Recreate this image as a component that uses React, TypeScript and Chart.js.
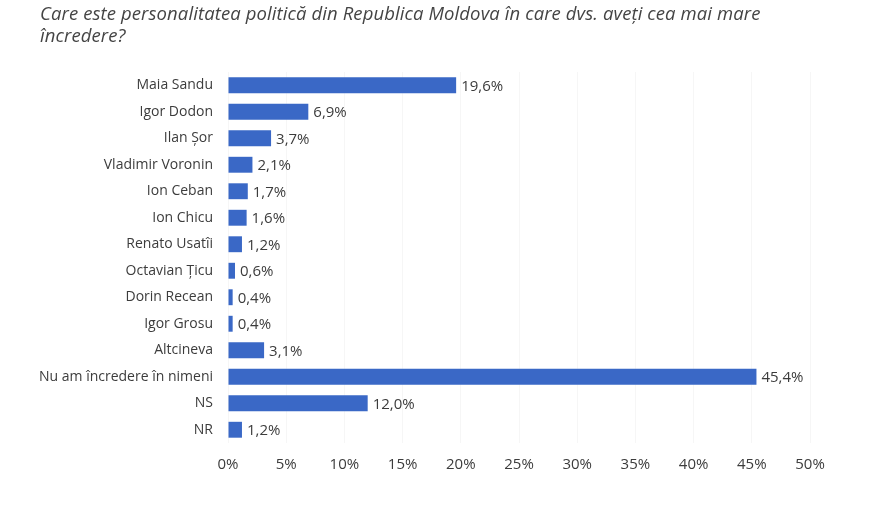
import { useEffect, useRef } from 'react'
import { Chart, registerables } from 'chart.js'
import type { Plugin } from 'chart.js'

Chart.register(...registerables)

const categories = [
  'Maia Sandu',
  'Igor Dodon',
  'Ilan Șor',
  'Vladimir Voronin',
  'Ion Ceban',
  'Ion Chicu',
  'Renato Usatîi',
  'Octavian Țicu',
  'Dorin Recean',
  'Igor Grosu',
  'Altcineva',
  'Nu am încredere în nimeni',
  'NS',
  'NR',
]
const values = [19.6, 6.9, 3.7, 2.1, 1.7, 1.6, 1.2, 0.6, 0.4, 0.4, 3.1, 45.4, 12.0, 1.2]
const tickValues = [0, 5, 10, 15, 20, 25, 30, 35, 40, 45, 50]

const FONT = "'Open Sans', Lato, sans-serif"
const TEXT = '#3c3c3c'

const fmt = (v: number) => v.toFixed(1).replace('.', ',') + '%'

// writes the value just past the end of each bar
const valueLabels: Plugin<'bar'> = {
  id: 'valueLabels',
  afterDatasetsDraw(chart) {
    const ctx = chart.ctx
    const meta = chart.getDatasetMeta(0)
    ctx.save()
    ctx.font = `15px ${FONT}`
    ctx.fillStyle = TEXT
    ctx.textAlign = 'left'
    ctx.textBaseline = 'middle'
    meta.data.forEach((bar, i) => {
      const { x, y } = bar.getProps(['x', 'y'], true)
      ctx.fillText(fmt(values[i]), x + 5, y + 1)
    })
    ctx.restore()
  },
}

export default function App() {
  const canvasRef = useRef<HTMLCanvasElement>(null)
  const chartRef = useRef<Chart | null>(null)

  useEffect(() => {
    document.body.style.margin = '0'
    if (chartRef.current) chartRef.current.destroy()
    const ctx = canvasRef.current?.getContext('2d')
    if (!ctx) return

    chartRef.current = new Chart(ctx, {
      type: 'bar',
      data: {
        labels: categories,
        datasets: [{
          data: values,
          backgroundColor: '#3a68c6',
          categoryPercentage: 0.6,
          barPercentage: 1,
        }],
      },
      options: {
        indexAxis: 'y',
        responsive: false,
        animation: false,
        layout: { padding: { top: 72, right: 77, bottom: 56, left: 0 } },
        plugins: {
          legend: { display: false },
          tooltip: { enabled: false },
        },
        scales: {
          x: {
            min: 0,
            max: 50,
            afterBuildTicks: (scale) => {
              scale.ticks = tickValues.map(v => ({ value: v }))
            },
            afterFit: (scale) => { scale.height = 30 },
            border: { display: false },
            grid: { color: 'rgba(0,0,0,0.035)', drawTicks: false },
            ticks: {
              padding: 13,
              color: TEXT,
              font: { size: 15, family: FONT },
              callback: (v) => v + '%',
            },
          },
          y: {
            afterFit: (scale) => { scale.width = 228 },
            border: { display: false },
            grid: { display: false, drawTicks: false },
            ticks: {
              padding: 15,
              color: TEXT,
              font: { size: 14, family: FONT },
            },
          },
        },
      },
      plugins: [valueLabels],
    })

    return () => {
      chartRef.current?.destroy()
      chartRef.current = null
    }
  }, [])

  return (
    <div style={{ position: 'relative', width: 887, height: 529, background: '#fff' }}>
      <div
        style={{
          position: 'absolute',
          left: 40,
          top: 2,
          width: 840,
          fontFamily: FONT,
          fontStyle: 'italic',
          fontSize: 18.5,
          letterSpacing: 0.1,
          lineHeight: '22px',
          color: '#444',
        }}
      >
        Care este personalitatea politică din Republica Moldova în care dvs. aveți cea mai mare
        <br />
        încredere?
      </div>
      <canvas ref={canvasRef} width={887} height={529} style={{ display: 'block' }} />
    </div>
  )
}
